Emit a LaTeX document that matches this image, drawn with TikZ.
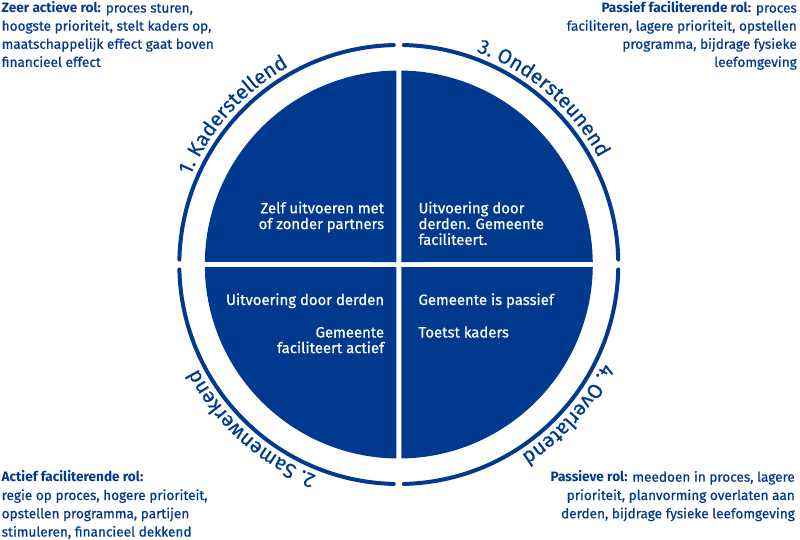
\documentclass[tikz,border=0pt]{standalone}
\usepackage{fontspec}
\setmainfont{Fira Sans}[UprightFeatures={FakeBold=0.6}]
\usetikzlibrary{decorations.text}
\definecolor{rblue}{RGB}{1,57,142}
\newcommand\ringlab{\fontsize{20.5}{24}\selectfont\color{rblue}}
\begin{document}
\begin{tikzpicture}[x=1pt,y=1pt,
  quad/.style={fill=rblue},
  ring/.style={draw=rblue, line width=4pt, line cap=round},
  inner/.style={text=white, font=\fontsize{14.9}{18}\selectfont, inner sep=0pt},
  side/.style={text=rblue, font=\fontsize{13.6}{18}\selectfont, inner sep=0pt},
  arclab/.style={decorate, decoration={text along path, text align=center, text={#1}}}
]
\useasboundingbox (0,0) rectangle (800,539);
\coordinate (c) at (398.8,274.5);

% quadrants
\fill[quad] ([shift={(-2.5,2.5)}]c) -- ([shift={(90.74:194)}]c) arc[start angle=90.74, end angle=179.26, radius=194] -- cycle;
\fill[quad] ([shift={(2.5,2.5)}]c) -- ([shift={(0.74:194)}]c) arc[start angle=0.74, end angle=89.26, radius=194] -- cycle;
\fill[quad] ([shift={(-2.5,-2.5)}]c) -- ([shift={(180.74:194)}]c) arc[start angle=180.74, end angle=269.26, radius=194] -- cycle;
\fill[quad] ([shift={(2.5,-2.5)}]c) -- ([shift={(270.74:194)}]c) arc[start angle=270.74, end angle=359.26, radius=194] -- cycle;

% ring
\foreach \a [evaluate=\a as \s using \a+1.3, evaluate=\a as \e using \a+88.7] in {0,90,180,270}
  \draw[ring] ([shift={(\s:219.5)}]c) arc[start angle=\s, end angle=\e, radius=219.5];

% labels along ring
\path[arclab={|\ringlab|1. Kaderstellend}] ([shift={(178:226.5)}]c) arc[start angle=178, end angle=98, radius=226.5];
\path[arclab={|\ringlab|3. Ondersteunend}] ([shift={(89:226.5)}]c) arc[start angle=89, end angle=9, radius=226.5];
\path[arclab={|\ringlab|4. Overlatend}] ([shift={(-1.5:226.5)}]c) arc[start angle=-1.5, end angle=-81.5, radius=226.5];
\path[arclab={|\ringlab|2. Samenwerkend}] ([shift={(268:226.5)}]c) arc[start angle=268, end angle=188, radius=226.5];

% inner texts
\node[inner, anchor=base east] (q1a) at (384.3,325.7) {Zelf uitvoeren met};
\node[inner, anchor=base east] (q1b) at (384.3,309.9) {of zonder partners};
\node[inner, anchor=base west] (q3a) at (418.3,325.7) {Uitvoering door};
\node[inner, anchor=base west] (q3b) at (418.3,309.9) {derden. Gemeente};
\node[inner, anchor=base west] (q3c) at (418.3,294.1) {faciliteert.};
\node[inner, anchor=base east] (q2a) at (384.3,234) {Uitvoering door derden};
\node[inner, anchor=base east] (q2b) at (384.3,201.5) {Gemeente};
\node[inner, anchor=base east] (q2c) at (384.3,185.9) {faciliteert actief};
\node[inner, anchor=base west] (q4a) at (418.3,234) {Gemeente is passief};
\node[inner, anchor=base west] (q4b) at (418.3,201.5) {Toetst kaders};

% corner texts
\node[side, anchor=base west] (tl1) at (1.5,526.4) {\textbf{Zeer actieve rol:} proces sturen,};
\node[side, anchor=base west] (tl2) at (1.5,508.3) {hoogste prioriteit, stelt kaders op,};
\node[side, anchor=base west] (tl3) at (1.5,490.2) {maatschappelijk effect gaat boven};
\node[side, anchor=base west] (tl4) at (1.5,472.1) {financieel effect};

\node[side, anchor=base east] (tr1) at (797,526.4) {\textbf{Passief faciliterende rol:} proces};
\node[side, anchor=base east] (tr2) at (797,508.3) {faciliteren, lagere prioriteit, opstellen};
\node[side, anchor=base east] (tr3) at (797,490.2) {programma, bijdrage fysieke};
\node[side, anchor=base east] (tr4) at (797,472.1) {leefomgeving};

\node[side, anchor=base west] (bl1) at (1.5,57.3) {\textbf{Actief faciliterende rol:}};
\node[side, anchor=base west] (bl2) at (1.5,39.0) {regie op proces, hogere prioriteit,};
\node[side, anchor=base west] (bl3) at (1.5,20.7) {opstellen programma, partijen};
\node[side, anchor=base west] (bl4) at (1.5,2.4) {stimuleren, financieel dekkend};

\node[side, anchor=base east] (br1) at (795,57.3) {\textbf{Passieve rol:} meedoen in proces, lagere};
\node[side, anchor=base east] (br2) at (795,39.0) {prioriteit, planvorming overlaten aan};
\node[side, anchor=base east] (br3) at (795,20.7) {derden, bijdrage fysieke leefomgeving};
\end{tikzpicture}
\end{document}
